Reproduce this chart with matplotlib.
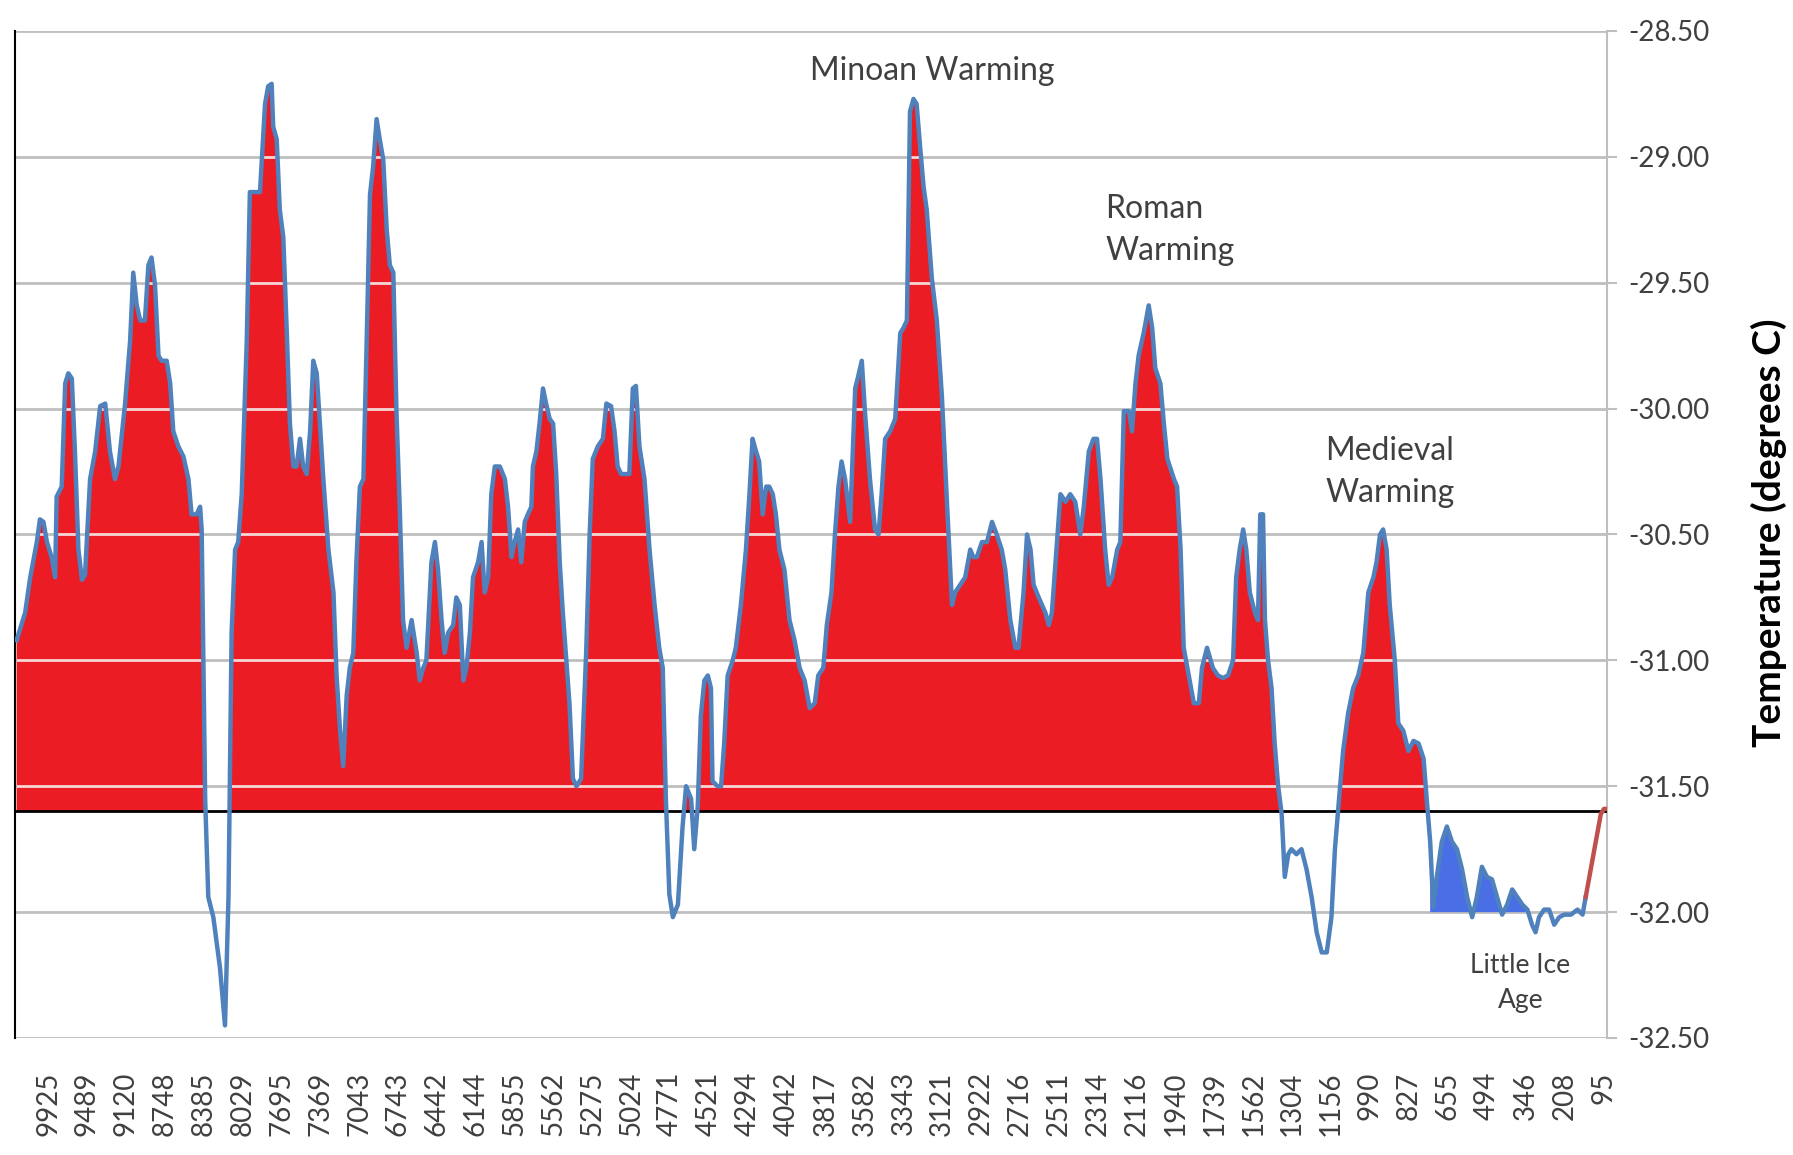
import matplotlib
matplotlib.use("Agg")
import numpy as np
from matplotlib import pyplot as plt
from matplotlib.path import Path

plt.rcParams["font.family"] = ["Lato", "DejaVu Sans"]

# years before present shown on the category axis (every n-th sample)
year_labels = [
    "9925", "9489", "9120", "8748", "8385", "8029", "7695", "7369", "7043", "6743",
    "6442", "6144", "5855", "5562", "5275", "5024", "4771", "4521", "4294", "4042",
    "3817", "3582", "3343", "3121", "2922", "2716", "2511", "2314", "2116", "1940",
    "1739", "1562", "1304", "1156", "990", "827", "655", "494", "346", "208", "95",
]

# position along the category axis (1 = one label step) and temperature (deg C)
pos = [
    -0.81, -0.59, -0.46, -0.29, -0.21, -0.12, -0.03, 0.09, 0.18, 0.22, 0.35, 0.44, 0.52, 0.61,
    0.69, 0.78, 0.87, 0.95, 1.08, 1.21, 1.34, 1.47, 1.59, 1.72, 1.81, 1.98, 2.11, 2.19, 2.28,
    2.37, 2.49, 2.58, 2.66, 2.75, 2.84, 2.92, 3.05, 3.14, 3.22, 3.35, 3.48, 3.61, 3.69, 3.82,
    3.91, 3.95, 4.04, 4.12, 4.25, 4.42, 4.55, 4.64, 4.72, 4.81, 4.89, 4.98, 5.11, 5.19, 5.32,
    5.45, 5.58, 5.66, 5.75, 5.79, 5.88, 5.96, 6.05, 6.14, 6.22, 6.31, 6.39, 6.48, 6.56, 6.65,
    6.74, 6.82, 6.91, 6.99, 7.08, 7.21, 7.34, 7.42, 7.51, 7.59, 7.68, 7.76, 7.85, 7.93, 8.02,
    8.11, 8.19, 8.28, 8.36, 8.45, 8.53, 8.62, 8.71, 8.79, 8.88, 8.96, 9.05, 9.13, 9.22, 9.35,
    9.48, 9.56, 9.65, 9.73, 9.86, 9.95, 10.03, 10.12, 10.20, 10.29, 10.42, 10.50, 10.59, 10.68,
    10.76, 10.85, 10.93, 11.06, 11.15, 11.23, 11.32, 11.40, 11.49, 11.62, 11.75, 11.83, 11.92,
    12.00, 12.09, 12.17, 12.26, 12.34, 12.43, 12.47, 12.56, 12.64, 12.73, 12.81, 12.90, 12.99,
    13.07, 13.16, 13.24, 13.33, 13.41, 13.50, 13.59, 13.71, 13.84, 13.93, 14.01, 14.14, 14.27,
    14.36, 14.48, 14.57, 14.65, 14.74, 14.95, 15.04, 15.12, 15.21, 15.34, 15.47, 15.60, 15.72,
    15.81, 15.89, 15.98, 16.07, 16.20, 16.32, 16.41, 16.54, 16.62, 16.71, 16.79, 16.88, 16.97,
    17.05, 17.09, 17.22, 17.31, 17.39, 17.48, 17.61, 17.69, 17.82, 17.95, 18.04, 18.12, 18.21,
    18.29, 18.38, 18.47, 18.55, 18.64, 18.72, 18.81, 18.94, 19.07, 19.20, 19.33, 19.46, 19.59,
    19.72, 19.81, 19.94, 20.03, 20.15, 20.24, 20.33, 20.41, 20.50, 20.63, 20.76, 20.84, 20.93,
    21.01, 21.14, 21.27, 21.36, 21.44, 21.53, 21.66, 21.79, 21.92, 22.00, 22.09, 22.17, 22.26,
    22.34, 22.43, 22.52, 22.60, 22.73, 22.86, 22.99, 23.12, 23.25, 23.33, 23.46, 23.59, 23.72,
    23.80, 23.89, 24.02, 24.15, 24.28, 24.40, 24.53, 24.62, 24.75, 24.88, 24.96, 25.09, 25.18,
    25.27, 25.35, 25.48, 25.65, 25.74, 25.82, 25.95, 26.04, 26.17, 26.29, 26.42, 26.55, 26.64,
    26.77, 26.89, 26.98, 27.07, 27.19, 27.28, 27.37, 27.50, 27.58, 27.67, 27.80, 27.88, 27.97,
    28.05, 28.18, 28.31, 28.40, 28.48, 28.61, 28.70, 28.79, 28.96, 29.04, 29.13, 29.21, 29.34,
    29.47, 29.60, 29.68, 29.81, 29.96, 30.09, 30.22, 30.35, 30.48, 30.56, 30.65, 30.74, 30.82,
    30.91, 31.04, 31.12, 31.18, 31.25, 31.30, 31.38, 31.47, 31.55, 31.64, 31.73, 31.81, 31.90,
    31.98, 32.11, 32.24, 32.37, 32.50, 32.63, 32.76, 32.89, 33.01, 33.10, 33.19, 33.31, 33.44,
    33.57, 33.70, 33.83, 33.96, 34.09, 34.17, 34.26, 34.34, 34.43, 34.51, 34.64, 34.73, 34.86,
    34.99, 35.12, 35.25, 35.38, 35.46, 35.55, 35.63, 35.72, 35.85, 35.98, 36.11, 36.24, 36.37,
    36.50, 36.63, 36.75, 36.88, 37.01, 37.14, 37.27, 37.40, 37.53, 37.66, 37.79, 37.92, 38.05,
    38.17, 38.26, 38.35, 38.48, 38.61, 38.74, 38.87, 39.00, 39.17, 39.34, 39.47, 39.55,
]
temp = [
    -30.92, -30.81, -30.67, -30.53, -30.44, -30.45, -30.53, -30.59, -30.67, -30.35, -30.31,
    -29.90, -29.86, -29.88, -30.17, -30.56, -30.68, -30.66, -30.28, -30.17, -29.99, -29.98,
    -30.17, -30.28, -30.23, -29.98, -29.73, -29.46, -29.59, -29.65, -29.65, -29.43, -29.40,
    -29.51, -29.79, -29.81, -29.81, -29.90, -30.09, -30.15, -30.19, -30.28, -30.42, -30.42,
    -30.39, -30.48, -31.55, -31.94, -32.02, -32.22, -32.45, -31.94, -30.89, -30.56, -30.53,
    -30.34, -29.73, -29.14, -29.14, -29.14, -28.79, -28.72, -28.71, -28.88, -28.93, -29.21,
    -29.32, -29.70, -30.06, -30.23, -30.23, -30.12, -30.23, -30.26, -30.09, -29.81, -29.86,
    -30.06, -30.28, -30.56, -30.73, -31.06, -31.28, -31.42, -31.14, -31.03, -30.97, -30.61,
    -30.31, -30.28, -29.76, -29.15, -29.04, -28.85, -28.93, -29.01, -29.29, -29.43, -29.46,
    -30.01, -30.42, -30.84, -30.95, -30.84, -30.97, -31.08, -31.03, -31.00, -30.61, -30.53,
    -30.64, -30.84, -30.97, -30.89, -30.86, -30.75, -30.78, -31.08, -31.03, -30.89, -30.67,
    -30.61, -30.53, -30.73, -30.67, -30.34, -30.23, -30.23, -30.28, -30.39, -30.59, -30.53,
    -30.48, -30.61, -30.45, -30.42, -30.39, -30.23, -30.17, -30.06, -29.92, -29.98, -30.04,
    -30.06, -30.26, -30.61, -30.81, -31.00, -31.17, -31.47, -31.50, -31.47, -30.97, -30.50,
    -30.20, -30.15, -30.12, -29.98, -29.99, -30.09, -30.23, -30.26, -30.26, -29.92, -29.91,
    -30.15, -30.28, -30.56, -30.78, -30.95, -31.03, -31.55, -31.93, -32.02, -31.97, -31.66,
    -31.50, -31.55, -31.75, -31.58, -31.22, -31.08, -31.06, -31.11, -31.48, -31.50, -31.50,
    -31.33, -31.06, -31.00, -30.95, -30.78, -30.56, -30.34, -30.12, -30.17, -30.21, -30.42,
    -30.31, -30.31, -30.34, -30.42, -30.56, -30.64, -30.84, -30.92, -31.03, -31.08, -31.19,
    -31.17, -31.06, -31.03, -30.86, -30.73, -30.50, -30.31, -30.21, -30.28, -30.45, -29.92,
    -29.87, -29.81, -30.01, -30.28, -30.48, -30.50, -30.34, -30.12, -30.09, -30.04, -29.70,
    -29.68, -29.65, -28.82, -28.77, -28.79, -28.96, -29.12, -29.21, -29.48, -29.65, -29.95,
    -30.37, -30.78, -30.73, -30.70, -30.67, -30.56, -30.59, -30.59, -30.53, -30.53, -30.45,
    -30.50, -30.56, -30.64, -30.84, -30.95, -30.95, -30.73, -30.50, -30.56, -30.70, -30.75,
    -30.81, -30.86, -30.81, -30.53, -30.34, -30.37, -30.34, -30.37, -30.50, -30.39, -30.17,
    -30.12, -30.12, -30.28, -30.56, -30.70, -30.67, -30.56, -30.53, -30.01, -30.01, -30.09,
    -29.90, -29.79, -29.70, -29.59, -29.68, -29.84, -29.90, -30.06, -30.20, -30.28, -30.31,
    -30.56, -30.95, -31.06, -31.17, -31.17, -31.03, -30.95, -31.03, -31.06, -31.07, -31.06,
    -31.00, -30.67, -30.56, -30.48, -30.56, -30.73, -30.81, -30.84, -30.42, -30.42, -30.84,
    -31.00, -31.11, -31.33, -31.50, -31.61, -31.86, -31.77, -31.75, -31.77, -31.75, -31.83,
    -31.94, -32.08, -32.16, -32.16, -32.02, -31.75, -31.58, -31.36, -31.21, -31.11, -31.06,
    -30.97, -30.73, -30.67, -30.61, -30.50, -30.48, -30.56, -30.78, -31.00, -31.25, -31.28,
    -31.36, -31.32, -31.33, -31.39, -31.55, -31.72, -31.98, -31.86, -31.72, -31.66, -31.72,
    -31.75, -31.83, -31.94, -32.02, -31.94, -31.82, -31.86, -31.87, -31.94, -32.01, -31.97,
    -31.91, -31.94, -31.97, -31.99, -32.05, -32.08, -32.02, -31.99, -31.99, -32.05, -32.02,
    -32.01, -32.01, -31.99, -32.01, -31.94,
]

# modern warming tail drawn in red
modern_pos = [39.55, 39.68, 39.81, 39.94, 40.02, 40.10]
modern_temp = [-31.94, -31.83, -31.72, -31.61, -31.59, -31.59]

baseline = -31.6
lia_floor = -32.0
yticks = [-28.5, -29.0, -29.5, -30.0, -30.5, -31.0, -31.5, -32.0, -32.5]

annotations = [
    ("Minoan Warming", 22.73, -28.66, "center", 23),
    ("Roman\nWarming", 27.2, -29.29, "left", 23),
    ("Medieval\nWarming", 32.85, -30.25, "left", 23),
    ("Little Ice\nAge", 37.87, -32.28, "center", 19),
]

x = np.array(pos)
y = np.array(temp)

fig = plt.figure(figsize=(17.93, 11.55), dpi=100)
ax = fig.add_axes([0.0084, 0.1013, 0.8879, 0.8719])

grey = "#bfbfbf"
txt = "#404040"

ax.set_xlim(-0.85, 40.1)
ax.set_ylim(-32.5, -28.5)
ax.set_yticks(yticks)
ax.yaxis.tick_right()
ax.set_yticklabels([f"{v:.2f}" for v in yticks], fontsize=20, color=txt)
ax.grid(axis="y", color=grey, lw=2, zorder=0)
ax.set_axisbelow(True)
ax.tick_params(axis="y", length=7, width=1.5, color=grey, pad=8)

ax.set_xticks(range(len(year_labels)))
ax.set_xticklabels(year_labels, rotation=90, fontsize=20, color=txt)
ax.tick_params(axis="x", length=0, pad=24)

for s in ["top", "bottom"]:
    ax.spines[s].set_visible(False)
ax.spines["right"].set_color(grey)
ax.spines["right"].set_linewidth(1.5)
ax.spines["left"].set_color("black")
ax.spines["left"].set_linewidth(1.5)

# warm periods above the baseline
red = ax.fill_between(x, y, baseline, where=y > baseline, interpolate=True,
                      color="#ec1c24", lw=0, zorder=2)
# gridlines show up pale where they cross the red area
clip = Path.make_compound_path(*red.get_paths())
for g in yticks:
    ln = ax.axhline(g, color="#f7d6d6", lw=2, zorder=3)
    ln.set_clip_path(clip, ax.transData)

# little ice age
ax.fill_between(x, y, lia_floor, where=(x > 35.5) & (x < 38.2) & (y > lia_floor),
                interpolate=True, color="#4a6ee6", lw=0, zorder=2)

ax.axhline(baseline, color="black", lw=2, zorder=4)
ax.plot(x, y, color="#4f81bd", lw=3.2, zorder=5, solid_joinstyle="round")
ax.plot(modern_pos, modern_temp, color="#c0504d", lw=3.2, zorder=5)

for label, ax_x, ax_y, ha, fs in annotations:
    ax.text(ax_x, ax_y, label, ha=ha, va="center", fontsize=fs, color=txt,
            linespacing=1.5, zorder=6)

fig.text(0.9866, 0.539, "Temperature (degrees C)", rotation=90, ha="center",
         va="center", fontsize=28, fontweight="bold", color="black")

fig.savefig("out.png", dpi=100)
plt.close(fig)
